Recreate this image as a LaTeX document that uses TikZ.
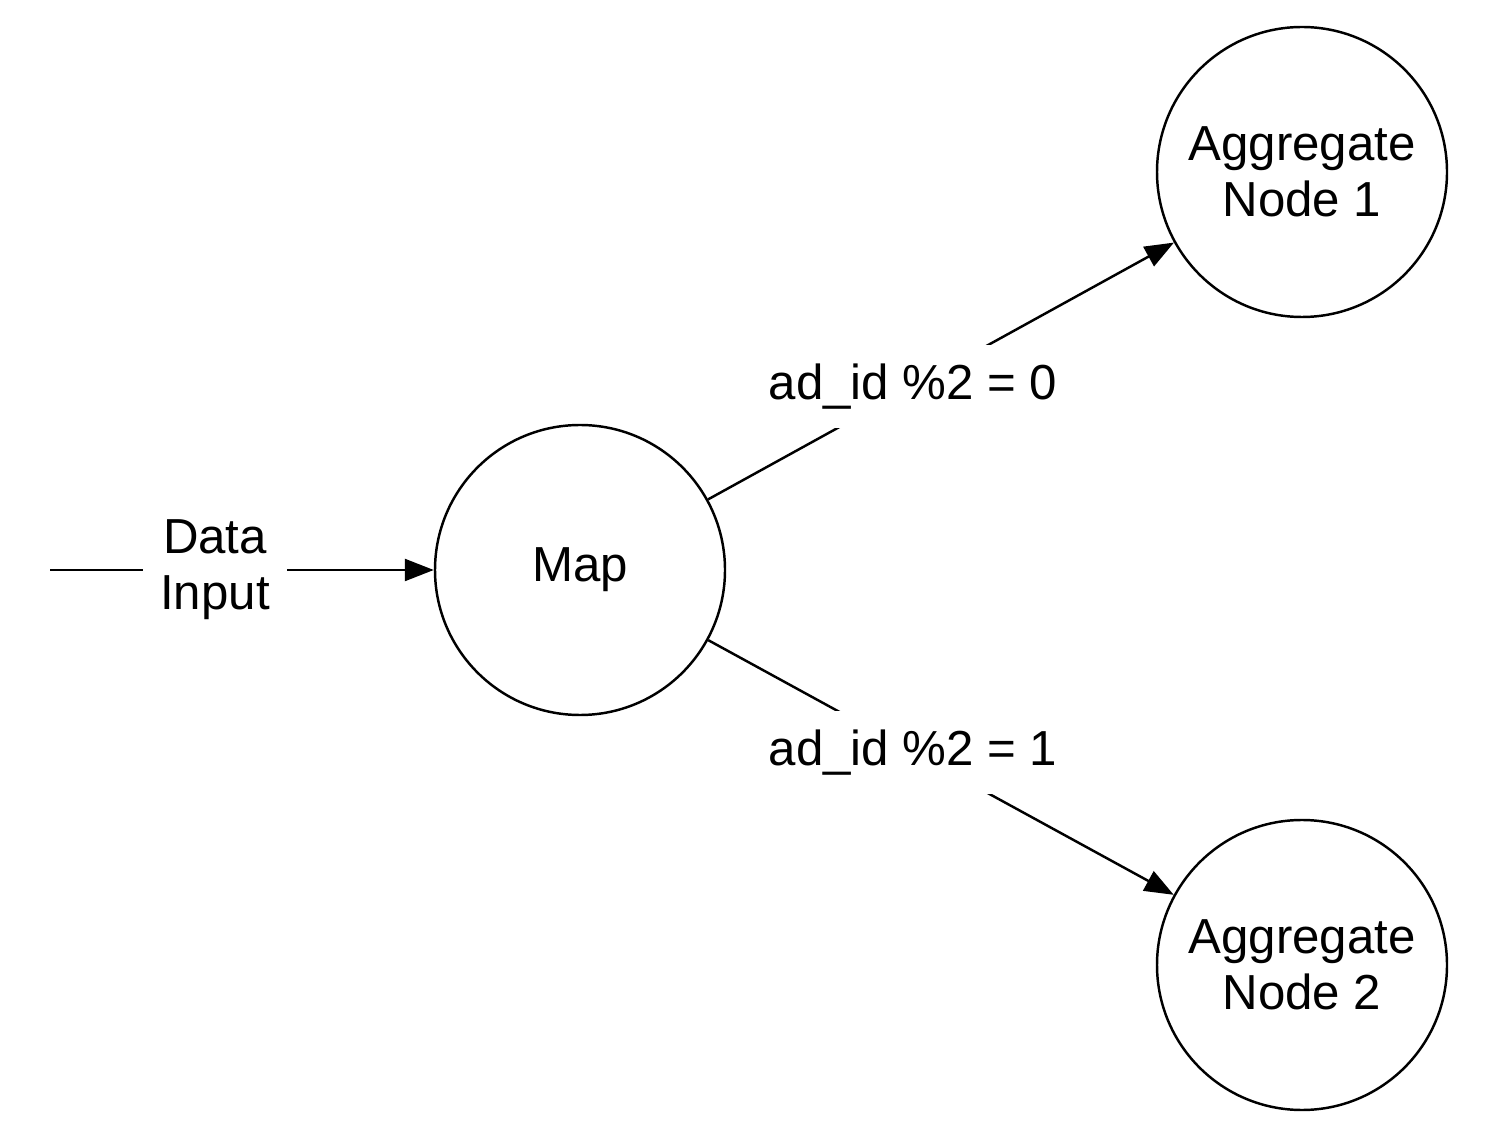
\documentclass[tikz,border=0pt]{standalone}
\usepackage{fontspec}
\setmainfont{Liberation Sans}
\usetikzlibrary{arrows.meta, positioning}

\begin{document}
\begin{tikzpicture}[
    % Estilo dos círculos (Map e nós de agregação)
    circ/.style={circle, draw=black, line width=1.4pt, minimum size=5.8cm, align=center, inner sep=0pt, font=\fontsize{28}{32}\selectfont},
    % Rótulos das ligações (fundo branco interrompe a linha)
    rotulo/.style={fill=white, inner xsep=0.34cm, inner ysep=0.38cm, align=center, font=\fontsize{28}{32}\selectfont},
    arrow/.style={-{Triangle[length=0.58cm, width=0.44cm]}, draw=black, line width=1.4pt}
]

% Área total da figura
\useasboundingbox (0,0) rectangle (30.16,-22.96);

% 1. Nó Map
\node[circ] (map) at (11.6,-11.4) {Map};

% 2. Nós de agregação
\node[circ] (agg1) at (26.04,-3.44) {Aggregate\\Node 1};
\node[circ] (agg2) at (26.04,-19.3) {Aggregate\\Node 2};

% 3. Entrada de dados
\coordinate (entrada) at (1.0,-11.4);
\draw[arrow] (entrada) -- node[rotulo, pos=0.43] {Data\\Input} (map);

% 4. Setas de ligação principais
\draw[arrow] (map) -- node[rotulo, pos=0.44] {ad\_id \%2 = 0} (agg1);
\draw[arrow] (map) -- node[rotulo, pos=0.44] {ad\_id \%2 = 1} (agg2);

\end{tikzpicture}
\end{document}
